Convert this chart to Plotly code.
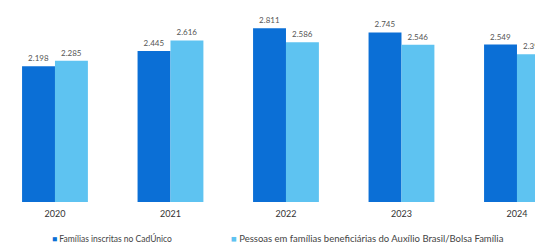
import plotly.graph_objects as go

years = ["2020", "2021", "2022", "2023", "2024"]
familias = [2198, 2445, 2811, 2745, 2549]
pessoas = [2285, 2616, 2586, 2546, 2393]
legend_labels = ["Famílias inscritas no CadÚnico",
                 "Pessoas em famílias beneficiárias do Auxílio Brasil/Bolsa Família"]

DARK = "#0b6fd6"
LIGHT = "#5ec3f1"
FONT = "Lato"

fig = go.Figure()
fig.add_trace(go.Bar(x=years, y=familias, name=legend_labels[0], marker_color=DARK,
                     marker_line_width=0,
                     texttemplate="%{y:,}", textposition="outside",
                     textfont=dict(size=8, color="#555", family=FONT), cliponaxis=False))
fig.add_trace(go.Bar(x=years, y=pessoas, name=legend_labels[1], marker_color=LIGHT,
                     marker_line_width=0,
                     texttemplate="%{y:,}", textposition="outside",
                     textfont=dict(size=8, color="#555", family=FONT), cliponaxis=False))

fig.update_layout(
    width=535, height=244,
    margin=dict(l=0, r=0, t=0, b=42),
    paper_bgcolor="white", plot_bgcolor="white",
    barmode="group", bargap=0.43, bargroupgap=0,
    separators=",.",
    showlegend=False,
    font=dict(family=FONT),
    xaxis=dict(type="category", range=[-0.476, 4.156], showgrid=False, showline=False,
               ticks="", ticklabelstandoff=5,
               tickfont=dict(size=9, color="#333", family=FONT), zeroline=False),
    yaxis=dict(range=[0, 3270], visible=False),
)

fig.add_annotation(xref="paper", yref="paper", x=50/535, y=-36/202, xanchor="left", yanchor="middle",
                   showarrow=False, text=f"<span style='color:{DARK}'>■</span> {legend_labels[0]}",
                   font=dict(size=8.5, color="#444", family=FONT))
fig.add_annotation(xref="paper", yref="paper", x=229/535, y=-36/202, xanchor="left", yanchor="middle",
                   showarrow=False, text=f"<span style='color:{LIGHT}'>■</span> {legend_labels[1]}",
                   font=dict(size=9.5, color="#444", family=FONT))

fig.write_html("out.html", config={"displayModeBar": False},
               post_script="document.body.style.margin='0';document.body.style.overflow='hidden';")
